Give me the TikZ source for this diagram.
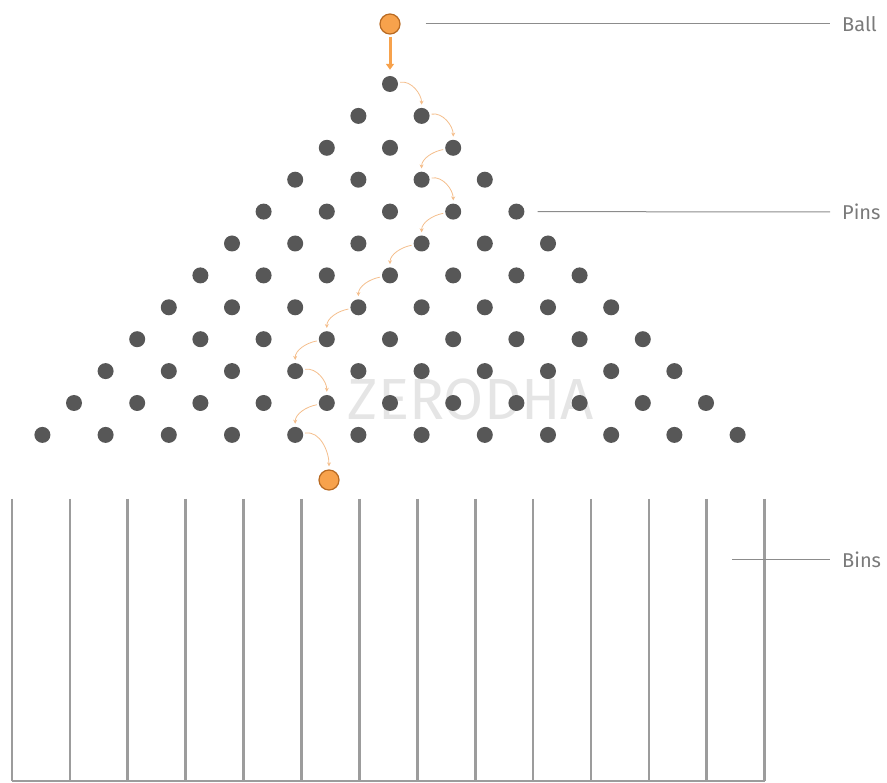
\documentclass[tikz,border=0pt]{standalone}
\usepackage{fontspec}
\newfontfamily\tagfamily{Fira Sans}
\usetikzlibrary{arrows.meta}
\definecolor{pingray}{HTML}{575757}
\definecolor{bingray}{HTML}{9C9C9C}
\definecolor{leadgray}{HTML}{8C8C8C}
\definecolor{taggray}{HTML}{7A7A7A}
\definecolor{ballorange}{HTML}{F7A24C}
\definecolor{balledge}{HTML}{B86A22}
\definecolor{hoporange}{HTML}{F4BE8C}
\begin{document}
\begin{tikzpicture}[
            x=1pt, y=-1pt,
            pin/.style={circle, fill=pingray, minimum size=16pt, inner sep=0pt},
            ball/.style={circle, fill=ballorange, draw=balledge, line width=1.2pt, minimum size=20pt, inner sep=0pt},
            drop/.style={-{Triangle[length=6pt,width=8pt]}, draw=ballorange, line width=3pt, shorten <=2pt, shorten >=6pt},
            hop/.style={-{Stealth[length=4pt,width=4pt]}, draw=hoporange, line width=0.8pt, shorten <=2pt, shorten >=3pt},
            leader/.style={draw=leadgray, line width=1pt},
            binwall/.style={draw=bingray, line width=2.7pt},
            tag/.style={anchor=west, inner sep=0pt, text=taggray, font=\tagfamily\fontsize{20}{22}\selectfont},
        ]
            \useasboundingbox (0,0) rectangle (887,783);
            % watermark
            \node [text=black!10, font=\tagfamily\fontsize{58}{58}\selectfont] (mark) at (471,400) {ZERODHA};
            % pins
            \foreach \r in {0,...,11} {
                \foreach \k in {0,...,\r} {
                    \node [pin] (p-\r-\k) at ({390+(\k-\r/2)*63.2}, {84+\r*31.9}) {};
                }
            }
            \node [ball] (top) at (390,24) {};
            \node [ball] (bottom) at (329,480) {};
            \draw [drop] (top) -- (p-0-0);
            % path of the ball
            \foreach \a/\b/\o in {p-0-0/p-1-1/10, p-1-1/p-2-2/10, p-2-2/p-3-2/190, p-3-2/p-4-3/10,
                                  p-4-3/p-5-3/190, p-5-3/p-6-3/190, p-6-3/p-7-3/190, p-7-3/p-8-3/190,
                                  p-8-3/p-9-3/190, p-9-3/p-10-4/10, p-10-4/p-11-4/190, p-11-4/bottom/10}
                \draw [hop] (\a.\o) to [out=\o, in=90] (\b.north);
            % bins
            \foreach \i in {0,...,13}
                \draw [binwall] ({12+\i*57.9},499) -- ({12+\i*57.9},781);
            \draw [bingray, line width=1.5pt] (12,781) -- (765,781);
            % labels
            \node [tag] (lball) at (842,24) {Ball};
            \node [tag] (lpins) at (842,212) {Pins};
            \node [tag] (lbins) at (842,560) {Bins};
            \coordinate (bins) at (732,560);
            \draw [leader, shorten <=25pt, shorten >=12pt] (top.east) -- (lball.west);
            \draw [leader, shorten <=13pt, shorten >=12pt] (p-4-4.east) -- (lpins.west);
            \draw [leader, shorten >=12pt] (bins) -- (lbins.west);
        \end{tikzpicture}
\end{document}
